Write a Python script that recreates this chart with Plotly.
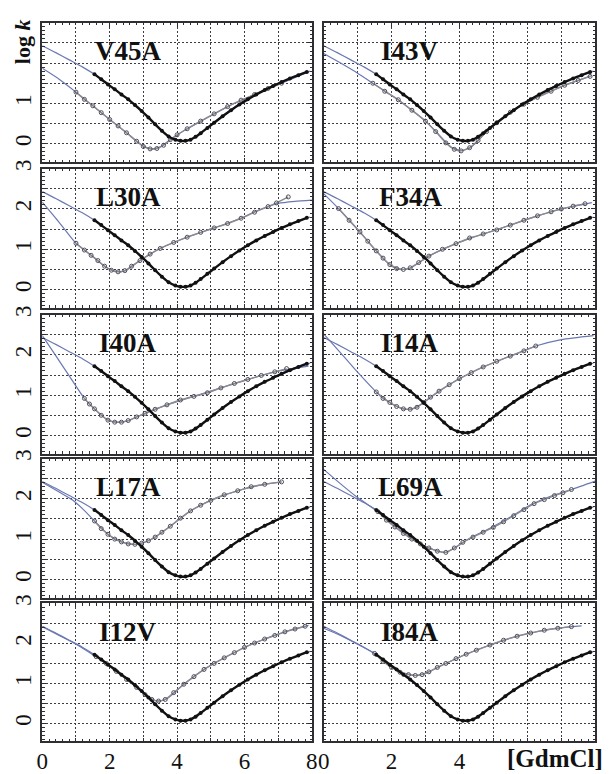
import plotly.graph_objects as go
from plotly.subplots import make_subplots

# ---------------- data ----------------
panel_names = ["V45A", "I43V", "L30A", "F34A", "I40A", "I14A", "L17A", "L69A", "I12V", "I84A"]

# wild-type chevron (black dots), same reference in every panel
wt_x = [1.55, 1.75, 1.95, 2.15, 2.35, 2.55, 2.75, 2.95, 3.15, 3.35, 3.55, 3.75, 3.95, 4.1, 4.25,
        4.4, 4.55, 4.7, 4.9, 5.1, 5.35, 5.6, 5.85, 6.1, 6.35, 6.6, 6.85, 7.1, 7.35, 7.6, 7.85]
wt_y = [1.72, 1.6, 1.47, 1.35, 1.22, 1.1, 0.96, 0.81, 0.65, 0.48, 0.32, 0.18, 0.1, 0.07, 0.07,
        0.1, 0.17, 0.26, 0.39, 0.52, 0.68, 0.83, 0.97, 1.1, 1.22, 1.33, 1.43, 1.53, 1.62, 1.7, 1.78]
wt_fit_x = [0, 0.4, 0.8, 1.2, 1.55, 2.0, 2.5, 3.0, 3.5, 3.8, 4.0, 4.2, 4.4, 4.7, 5.0, 5.5, 6.0, 6.5, 7.0, 7.5, 7.95]
wt_fit_y = [2.43, 2.26, 2.08, 1.9, 1.72, 1.44, 1.13, 0.77, 0.36, 0.16, 0.09, 0.07, 0.1, 0.26, 0.46, 0.78, 1.05, 1.29, 1.49, 1.66, 1.8]

# mutants (open circles) and their fits
V45A_x = [1.0, 1.25, 1.5, 1.75, 2.0, 2.25, 2.5, 2.8, 3.0, 3.2, 3.4, 3.6, 3.8, 4.0, 4.3, 4.7, 5.1, 5.5, 5.9, 6.3, 6.7, 7.1]
V45A_y = [1.28, 1.1, 0.94, 0.77, 0.6, 0.44, 0.27, 0.06, -0.07, -0.13, -0.12, -0.04, 0.1, 0.22, 0.37, 0.56, 0.74, 0.92, 1.08, 1.22, 1.37, 1.5]
V45A_fit_x = [0, 0.5, 1.0, 1.5, 2.0, 2.5, 2.8, 3.0, 3.25, 3.5, 3.8, 4.2, 4.8, 5.5, 6.3, 7.1, 7.9]
V45A_fit_y = [1.87, 1.6, 1.28, 0.94, 0.6, 0.27, 0.06, -0.06, -0.13, -0.08, 0.1, 0.32, 0.6, 0.92, 1.22, 1.5, 1.78]

I43V_x = [1.45, 1.8, 2.2, 2.6, 3.0, 3.3, 3.6, 3.85, 4.05, 4.3, 4.55, 4.8, 5.1, 5.5, 5.9, 6.3, 6.7, 7.1, 7.5, 7.85]
I43V_y = [1.5, 1.3, 1.09, 0.83, 0.56, 0.3, 0.02, -0.14, -0.18, -0.1, 0.08, 0.3, 0.52, 0.78, 0.98, 1.15, 1.3, 1.45, 1.57, 1.67]
I43V_fit_x = [0, 0.5, 1.0, 1.45, 2.0, 2.6, 3.0, 3.4, 3.75, 4.05, 4.35, 4.8, 5.5, 6.3, 7.1, 7.9]
I43V_fit_y = [2.24, 2.0, 1.75, 1.5, 1.2, 0.83, 0.56, 0.22, -0.08, -0.17, -0.08, 0.3, 0.78, 1.15, 1.45, 1.69]

L30A_x = [1.0, 1.25, 1.45, 1.65, 1.85, 2.05, 2.25, 2.45, 2.65, 2.9, 3.2, 3.5, 3.9, 4.3, 4.7, 5.1, 5.5, 5.9, 6.3, 6.7, 6.95, 7.3]
L30A_y = [1.15, 0.98, 0.85, 0.72, 0.58, 0.48, 0.44, 0.47, 0.58, 0.72, 0.88, 1.02, 1.17, 1.3, 1.42, 1.53, 1.64, 1.77, 1.92, 2.06, 2.15, 2.3]
L30A_fit_x = [0, 0.5, 1.0, 1.45, 1.85, 2.2, 2.45, 2.9, 3.5, 4.3, 5.1, 5.9, 6.3, 6.7, 7.0, 7.5, 8.0]
L30A_fit_y = [2.17, 1.67, 1.15, 0.85, 0.58, 0.45, 0.46, 0.72, 1.02, 1.3, 1.53, 1.77, 1.93, 2.06, 2.14, 2.19, 2.22]

F34A_x = [0.44, 0.75, 1.07, 1.3, 1.55, 1.75, 1.95, 2.15, 2.35, 2.55, 2.8, 3.1, 3.5, 3.9, 4.3, 4.7, 5.1, 5.5, 5.9, 6.3, 6.7, 7.0, 7.35, 7.7]
F34A_y = [2.01, 1.72, 1.43, 1.2, 0.96, 0.78, 0.62, 0.52, 0.5, 0.54, 0.67, 0.83, 1.0, 1.14, 1.28, 1.38, 1.48, 1.6, 1.72, 1.83, 1.93, 2.0, 2.07, 2.13]
F34A_fit_x = [0, 0.44, 1.07, 1.55, 1.95, 2.3, 2.55, 3.1, 3.9, 4.7, 5.5, 6.3, 7.0, 7.9]
F34A_fit_y = [2.38, 2.01, 1.43, 0.96, 0.62, 0.5, 0.53, 0.83, 1.14, 1.38, 1.6, 1.83, 2.0, 2.16]

I40A_x = [1.25, 1.4, 1.55, 1.75, 1.95, 2.15, 2.35, 2.55, 2.8, 3.05, 3.35, 3.7, 4.1, 4.5, 4.9, 5.3, 5.7, 6.1, 6.5, 6.9, 7.25]
I40A_y = [0.92, 0.78, 0.66, 0.5, 0.38, 0.33, 0.33, 0.37, 0.46, 0.55, 0.65, 0.76, 0.88, 0.97, 1.06, 1.18, 1.29, 1.39, 1.49, 1.58, 1.66]
I40A_fit_x = [0, 0.4, 0.8, 1.25, 1.55, 1.95, 2.25, 2.55, 3.05, 3.7, 4.5, 5.3, 6.1, 6.9, 7.9]
I40A_fit_y = [2.48, 1.98, 1.48, 0.92, 0.66, 0.38, 0.33, 0.37, 0.55, 0.76, 0.97, 1.18, 1.39, 1.58, 1.72]

I14A_x = [1.55, 1.75, 1.95, 2.15, 2.35, 2.55, 2.75, 2.95, 3.15, 3.4, 3.7, 4.0, 4.35, 4.7, 5.1, 5.5, 5.9, 6.25]
I14A_y = [1.08, 0.92, 0.82, 0.72, 0.66, 0.65, 0.7, 0.82, 0.95, 1.1, 1.26, 1.41, 1.56, 1.7, 1.84, 1.97, 2.1, 2.22]
I14A_fit_x = [0, 0.5, 1.0, 1.55, 1.95, 2.35, 2.6, 2.95, 3.4, 4.0, 4.7, 5.5, 6.25, 7.0, 7.95]
I14A_fit_y = [2.52, 2.05, 1.57, 1.08, 0.82, 0.66, 0.66, 0.82, 1.1, 1.41, 1.7, 1.97, 2.22, 2.38, 2.48]

L17A_x = [1.55, 1.75, 1.95, 2.15, 2.35, 2.55, 2.75, 2.95, 3.15, 3.35, 3.55, 3.8, 4.1, 4.4, 4.7, 5.0, 5.4, 5.8, 6.2, 6.6, 7.1]
L17A_y = [1.45, 1.26, 1.12, 1.0, 0.93, 0.88, 0.87, 0.9, 0.96, 1.05, 1.17, 1.32, 1.52, 1.7, 1.84, 1.96, 2.1, 2.2, 2.3, 2.36, 2.42]
L17A_fit_x = [0, 0.5, 0.9, 1.2, 1.55, 1.95, 2.35, 2.7, 3.0, 3.35, 3.8, 4.4, 5.0, 5.8, 6.6, 7.1]
L17A_fit_y = [2.41, 2.17, 1.97, 1.75, 1.45, 1.12, 0.93, 0.87, 0.91, 1.05, 1.32, 1.7, 1.96, 2.2, 2.36, 2.42]

L69A_x = [1.6, 1.85, 2.1, 2.35, 2.6, 2.85, 3.1, 3.35, 3.6, 3.85, 4.1, 4.4, 4.7, 5.0, 5.3, 5.6, 5.9, 6.2, 6.5, 6.8, 7.05, 7.3]
L69A_y = [1.68, 1.47, 1.3, 1.14, 1.0, 0.88, 0.78, 0.7, 0.67, 0.78, 0.92, 1.05, 1.17, 1.29, 1.43, 1.58, 1.73, 1.88, 1.98, 2.08, 2.15, 2.23]
L69A_fit_x = [0, 0.5, 1.0, 1.6, 2.2, 2.8, 3.3, 3.6, 3.9, 4.3, 4.9, 5.5, 6.1, 6.7, 7.3, 8.0]
L69A_fit_y = [2.73, 2.37, 2.03, 1.68, 1.25, 0.9, 0.72, 0.67, 0.8, 1.02, 1.27, 1.55, 1.85, 2.07, 2.23, 2.44]

I12V_x = [1.6, 1.9, 2.2, 2.5, 2.8, 3.05, 3.25, 3.45, 3.65, 3.9, 4.2, 4.5, 4.8, 5.1, 5.4, 5.7, 6.0, 6.3, 6.6, 6.9, 7.2, 7.5, 7.8]
I12V_y = [1.67, 1.5, 1.3, 1.1, 0.9, 0.72, 0.6, 0.56, 0.6, 0.77, 0.98, 1.17, 1.35, 1.5, 1.64, 1.77, 1.9, 2.01, 2.11, 2.2, 2.29, 2.36, 2.43]
I12V_fit_x = [0, 0.5, 1.0, 1.5, 2.0, 2.5, 2.85, 3.2, 3.45, 3.7, 4.2, 4.8, 5.4, 6.0, 6.6, 7.2, 7.9]
I12V_fit_y = [2.42, 2.2, 1.98, 1.72, 1.44, 1.12, 0.86, 0.63, 0.56, 0.62, 0.98, 1.35, 1.64, 1.9, 2.11, 2.29, 2.45]

I84A_x = [1.5, 1.75, 2.0, 2.25, 2.5, 2.7, 2.9, 3.1, 3.35, 3.6, 3.9, 4.2, 4.5, 4.9, 5.3, 5.7, 6.1, 6.5, 6.9, 7.3]
I84A_y = [1.75, 1.55, 1.4, 1.28, 1.22, 1.2, 1.22, 1.29, 1.4, 1.5, 1.62, 1.73, 1.83, 1.96, 2.08, 2.18, 2.26, 2.33, 2.38, 2.42]
I84A_fit_x = [0, 0.5, 1.0, 1.5, 2.0, 2.4, 2.75, 3.1, 3.6, 4.2, 4.9, 5.7, 6.5, 7.3, 7.6]
I84A_fit_y = [2.38, 2.2, 1.98, 1.75, 1.42, 1.25, 1.2, 1.29, 1.5, 1.73, 1.96, 2.18, 2.33, 2.42, 2.44]

mutants = {
    "V45A": (V45A_x, V45A_y, V45A_fit_x, V45A_fit_y),
    "I43V": (I43V_x, I43V_y, I43V_fit_x, I43V_fit_y),
    "L30A": (L30A_x, L30A_y, L30A_fit_x, L30A_fit_y),
    "F34A": (F34A_x, F34A_y, F34A_fit_x, F34A_fit_y),
    "I40A": (I40A_x, I40A_y, I40A_fit_x, I40A_fit_y),
    "I14A": (I14A_x, I14A_y, I14A_fit_x, I14A_fit_y),
    "L17A": (L17A_x, L17A_y, L17A_fit_x, L17A_fit_y),
    "L69A": (L69A_x, L69A_y, L69A_fit_x, L69A_fit_y),
    "I12V": (I12V_x, I12V_y, I12V_fit_x, I12V_fit_y),
    "I84A": (I84A_x, I84A_y, I84A_fit_x, I84A_fit_y),
}

x_tickvals = [0, 1, 2, 3, 4, 5, 6, 7, 8]
x_ticktext_left = ["0", "", "2", "", "4", "", "6", "", "8"]
x_ticktext_right = ["0", "", "2", "", "4", "", "", "", ""]
y_tickvals = [0, 0.5, 1, 1.5, 2, 2.5, 3]
y_ticktext = ["0", "", "1", "", "2", "", "3"]
y_ticktext_top = ["0", "", "1", "", "", "", ""]
SHADE_END = 1.35

# ---------------- layout geometry ----------------
W, H = 611, 774
col_px = [(37, 312), (324, 601)]
row_px = [(14, 155), (162, 303), (310, 451), (456, 597), (603, 743)]

FIT = "#6b79b3"
SERIF = "Liberation Serif"
BORDER = "#2e2e33"

fig = make_subplots(rows=5, cols=2)

for i, name in enumerate(panel_names):
    r, c = i // 2 + 1, i % 2 + 1
    mx, my, fx, fy = mutants[name]
    fig.add_vrect(x0=0, x1=SHADE_END, fillcolor="#dfe3ea", line_width=0, layer="below", row=r, col=c)
    fig.add_trace(go.Scatter(x=wt_fit_x, y=wt_fit_y, mode="lines", line=dict(color=FIT, width=1.2, shape="spline", smoothing=0.6),
                             hoverinfo="skip", showlegend=False), row=r, col=c)
    fig.add_trace(go.Scatter(x=fx, y=fy, mode="lines", line=dict(color=FIT, width=1.2, shape="spline", smoothing=0.6),
                             hoverinfo="skip", showlegend=False), row=r, col=c)
    fig.add_trace(go.Scatter(x=mx, y=my, mode="lines+markers",
                             line=dict(color="#8a8a90", width=1.4, shape="spline", smoothing=0.5),
                             marker=dict(symbol="circle-open", size=4, color="#505058", line=dict(width=1)),
                             showlegend=False), row=r, col=c)
    fig.add_trace(go.Scatter(x=wt_x, y=wt_y, mode="lines+markers",
                             line=dict(color="#111111", width=2.4, shape="spline", smoothing=0.5),
                             marker=dict(symbol="circle", size=4, color="#111111"),
                             showlegend=False), row=r, col=c)
    fig.add_annotation(x=2.55, y=2.29, xref=f"x{i+1}", yref=f"y{i+1}", text=f"<b>{name}</b>",
                       xanchor="center", yanchor="middle",
                       showarrow=False, font=dict(family=SERIF, size=27, color="#111"))

    x0, x1 = col_px[c - 1]
    y0, y1 = row_px[r - 1]
    xax = dict(domain=[x0 / W, x1 / W], range=[0, 8], tickmode="array", tickvals=x_tickvals,
               ticktext=(x_ticktext_left if c == 1 else x_ticktext_right),
               showticklabels=(r == 5), showgrid=True, gridcolor="#3c3c44", griddash="2px,2px", gridwidth=1,
               ticks="inside", ticklen=4, tickcolor=BORDER, showline=True, linecolor=BORDER, linewidth=1.5,
               mirror="allticks", zeroline=False, ticklabelstandoff=-2,
               minor=dict(dtick=0.2, tick0=0, ticks="inside", ticklen=2.5, tickcolor=BORDER, showgrid=False),
               tickfont=dict(family=SERIF, size=23, color="#111"))
    yax = dict(domain=[1 - y1 / H, 1 - y0 / H], range=[-0.45, 3.0], tickmode="array", tickvals=y_tickvals,
               ticktext=(y_ticktext_top if r == 1 else y_ticktext), tickangle=-90,
               showticklabels=(c == 1), showgrid=True, gridcolor="#3c3c44", griddash="2px,2px", gridwidth=1,
               ticks="inside", ticklen=4, tickcolor=BORDER, showline=True, linecolor=BORDER, linewidth=1.5,
               mirror="allticks", zeroline=False,
               minor=dict(dtick=0.1, tick0=0, ticks="inside", ticklen=2.5, tickcolor=BORDER, showgrid=False),
               tickfont=dict(family=SERIF, size=23, color="#111"))
    fig.update_layout(**{f"xaxis{i+1 if i else ''}": xax, f"yaxis{i+1 if i else ''}": yax})

fig.add_annotation(x=17 / W, y=1 - 33 / H, xref="paper", yref="paper", text="<b>log <i>k</i></b>",
                   xanchor="center", yanchor="middle",
                   textangle=-90, showarrow=False, font=dict(family=SERIF, size=22, color="#111"))
fig.add_annotation(x=560 / W, y=1 - 760 / H, xref="paper", yref="paper", text="<b>[GdmCl]</b>",
                   xanchor="center", yanchor="middle",
                   showarrow=False, font=dict(family=SERIF, size=25, color="#111"))

fig.update_layout(width=W, height=H, margin=dict(l=0, r=0, t=0, b=0),
                  paper_bgcolor="white", plot_bgcolor="white", showlegend=False)

fig.write_html("out.html", config={"displayModeBar": False},
               post_script="document.body.style.margin='0';document.body.style.overflow='hidden';")
